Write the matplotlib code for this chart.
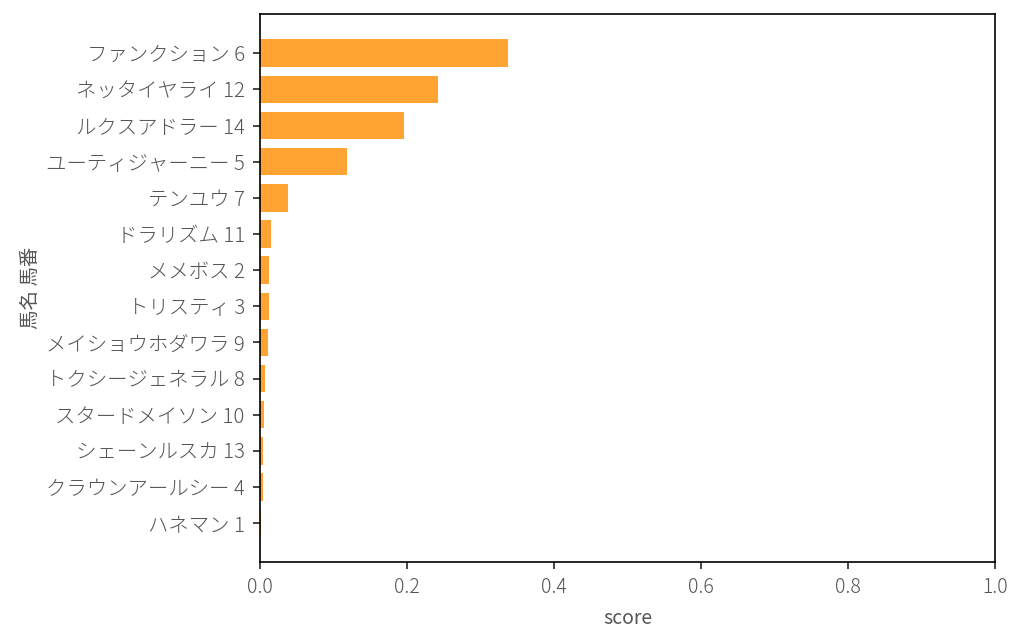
import matplotlib
matplotlib.use('Agg')
import matplotlib.pyplot as plt
import seaborn as sns

# Data (top to bottom)
horses = ['ファンクション 6', 'ネッタイヤライ 12', 'ルクスアドラー 14', 'ユーティジャーニー 5',
          'テンユウ 7', 'ドラリズム 11', 'メメボス 2', 'トリスティ 3', 'メイショウホダワラ 9',
          'トクシージェネラル 8', 'スタードメイソン 10', 'シェーンルスカ 13', 'クラウンアールシー 4',
          'ハネマン 1']
scores = [0.337, 0.242, 0.196, 0.118, 0.038, 0.015, 0.012, 0.0115, 0.011,
          0.006, 0.005, 0.004, 0.004, 0.0016]

sns.set_style('ticks')
plt.rcParams['font.family'] = ['Noto Sans CJK JP', 'DejaVu Sans']
plt.rcParams['font.weight'] = 'light'
plt.rcParams['text.color'] = '#555555'
plt.rcParams['axes.labelcolor'] = '#555555'
plt.rcParams['xtick.labelcolor'] = '#555555'
plt.rcParams['ytick.labelcolor'] = '#555555'

fig, ax = plt.subplots(figsize=(10.24, 6.44), dpi=100)
ypos = list(range(len(horses)))
ax.barh(ypos, scores, height=0.76, color='#ffa333', linewidth=0)
ax.set_yticks(ypos)
ax.set_yticklabels(horses, fontsize=14.7)
ax.set_ylim(len(horses) - 1 + 1.08, -1.08)
ax.set_xlim(0, 1.0)
ax.tick_params(axis='x', labelsize=14, length=5, width=1.2, pad=6)
ax.tick_params(axis='y', length=5, width=1.2, pad=6)
ax.set_xlabel('score', fontsize=14, labelpad=7)
ax.set_ylabel('馬名 馬番', fontsize=14, labelpad=4)
for s in ax.spines.values():
    s.set_color('black')
    s.set_linewidth(1.2)

fig.subplots_adjust(left=0.254, right=0.972, top=0.978, bottom=0.127)
fig.savefig('out.png', dpi=100)
